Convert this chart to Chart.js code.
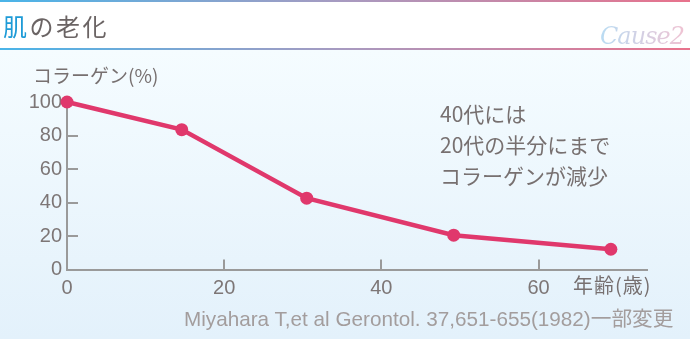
<!DOCTYPE html>
<html><head><meta charset="utf-8">
<script src="https://cdn.jsdelivr.net/npm/chart.js@4"></script>
<style>
html,body{margin:0;padding:0;}
body{width:690px;height:339px;position:relative;overflow:hidden;background:linear-gradient(#f5fcff 50px,#e3f1fb 339px);font-family:"Noto Sans CJK JP","Liberation Sans",sans-serif;}
.bar{position:absolute;left:0;width:690px;height:2px;background:linear-gradient(90deg,#4ab4e8,#a89ac0 50%,#e8728c);}
#header{position:absolute;left:0;top:2px;width:690px;height:46px;background:#fff;}
#wrap{position:absolute;left:0;top:0;width:690px;height:339px;}
.t{position:absolute;white-space:nowrap;line-height:1;}
#title{left:3px;top:14px;font-size:24px;letter-spacing:2.5px;color:#6b6464;}
#title span{color:#1e9bd7;}
#cause{left:600px;top:24px;font-family:"DejaVu Serif",serif;font-style:italic;font-size:24px;letter-spacing:-1px;background:linear-gradient(90deg,#b9dcf3,#efc3d3);-webkit-background-clip:text;background-clip:text;color:transparent;}
#ytitle{left:33px;top:65px;font-size:19px;color:#777070;}
#note{left:440px;top:98px;font-size:21px;line-height:31px;color:#777070;}
#xtitle{left:573px;top:275px;font-size:20px;letter-spacing:1px;color:#777070;}
#src{left:184px;top:309px;font-size:20.7px;color:#a39d9d;font-family:"Liberation Sans","Noto Sans CJK JP",sans-serif;}
</style></head>
<body>
<div class="bar" style="top:0"></div>
<div id="header"></div>
<div class="bar" style="top:48px"></div>
<div id="wrap"><canvas id="c" width="690" height="339"></canvas></div>
<div class="t" id="title"><span>肌</span>の老化</div>
<div class="t" id="cause">Cause2</div>
<div class="t" id="ytitle">コラーゲン(%)</div>
<div class="t" id="note">40代には<br>20代の半分にまで<br>コラーゲンが減少</div>
<div class="t" id="xtitle">年齢(歳)</div>
<div class="t" id="src">Miyahara T,et al Gerontol. 37,651-655(1982)一部変更</div>
<script>
const ages=[0,14.6,30.5,49.2,69.2];
const collagen=[100,83.5,42.6,20.5,12.1];
const xTicks=[0,20,40,60];
const yTicks=[0,20,40,60,80,100];

const axisColor='#9a9a9a';
const labelColor='#7d7676';
const lineColor='#e0386c';

const innerTicks={id:'innerTicks',beforeDatasetsDraw(c){
  const {ctx,chartArea:a,scales:{x,y}}=c;
  ctx.save();ctx.strokeStyle=axisColor;ctx.lineWidth=2;ctx.beginPath();
  xTicks.forEach(v=>{if(v===0)return;const px=Math.round(x.getPixelForValue(v));ctx.moveTo(px,a.bottom);ctx.lineTo(px,a.bottom-10);});
  yTicks.forEach(v=>{if(v===0||v===100)return;const py=Math.round(y.getPixelForValue(v));ctx.moveTo(a.left,py);ctx.lineTo(a.left+11,py);});
  ctx.stroke();ctx.restore();
}};

new Chart(document.getElementById('c'),{
  type:'scatter',
  data:{datasets:[{
    data:ages.map((a,i)=>({x:a,y:collagen[i]})),
    showLine:true,borderColor:lineColor,backgroundColor:lineColor,
    borderWidth:4.5,pointRadius:6.5,pointHoverRadius:6.5,pointBorderWidth:0,clip:false
  }]},
  options:{
    responsive:false,animation:false,events:[],
    layout:{padding:{left:0,top:102,right:43,bottom:34.5}},
    plugins:{legend:{display:false},tooltip:{enabled:false}},
    scales:{
      x:{type:'linear',min:0,max:73.8,
        afterBuildTicks:s=>{s.ticks=xTicks.map(v=>({value:v}));},
        afterFit:s=>{s.height=35;},
        grid:{display:false,drawTicks:false},
        border:{display:true,color:axisColor,width:2},
        ticks:{color:labelColor,font:{family:'Liberation Sans',size:20},padding:7,maxRotation:0,autoSkip:false}},
      y:{type:'linear',min:0,max:100,
        afterBuildTicks:s=>{s.ticks=yTicks.map(v=>({value:v}));},
        afterFit:s=>{s.width=67;},
        grid:{display:false,drawTicks:false},
        border:{display:true,color:axisColor,width:2},
        ticks:{color:labelColor,font:{family:'Liberation Sans',size:20},padding:5,autoSkip:false}}
    }
  },
  plugins:[innerTicks]
});
</script>
</body></html>
